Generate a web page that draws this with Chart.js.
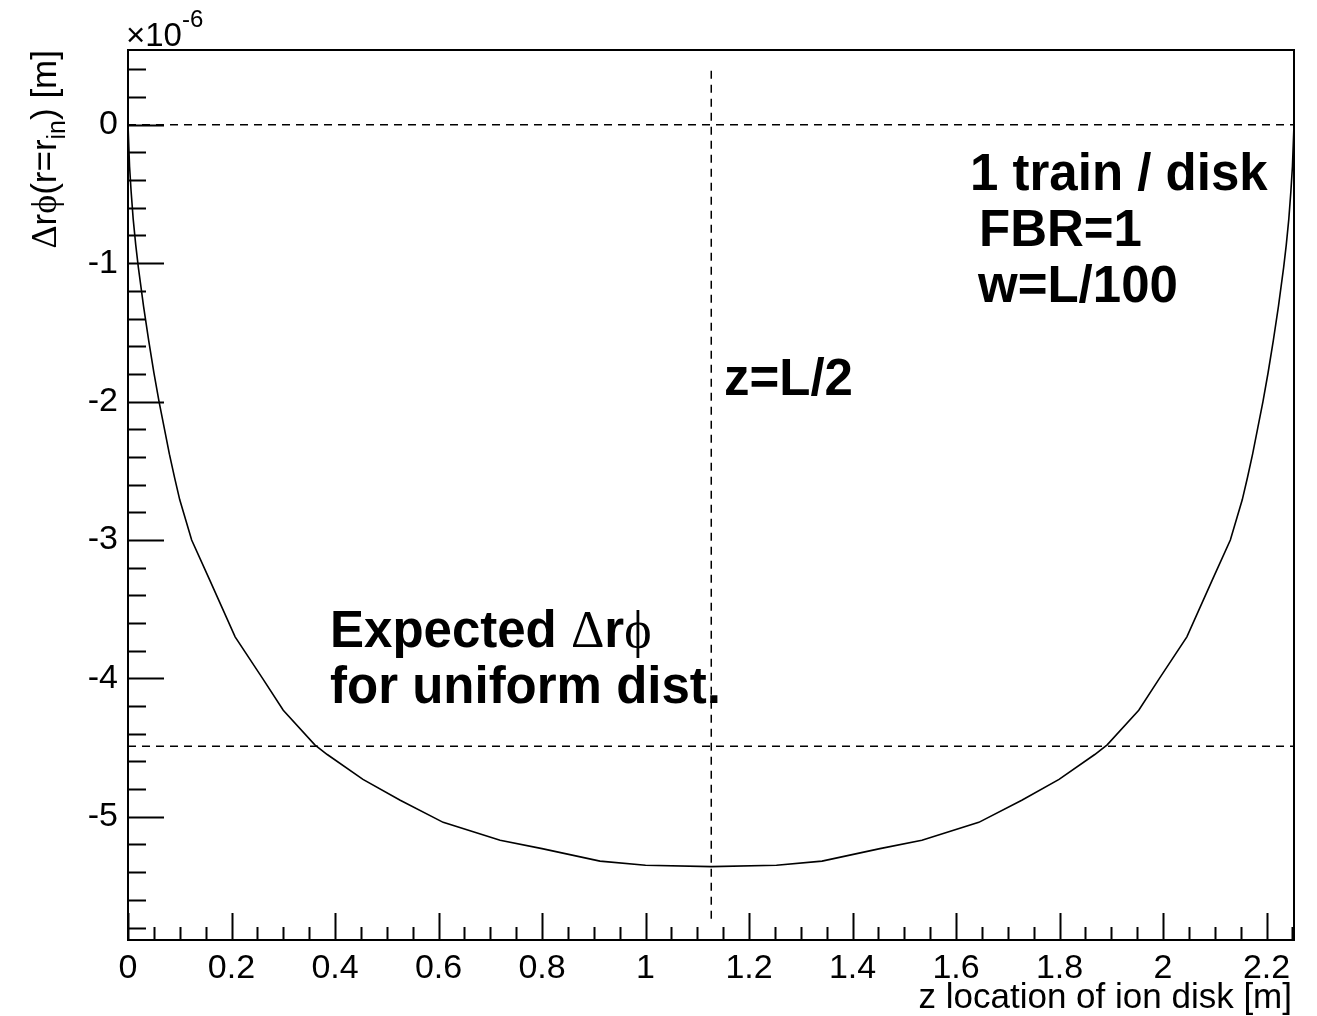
<!DOCTYPE html>
<html><head><meta charset="utf-8">
<script src="https://cdn.jsdelivr.net/npm/chart.js@4.4.1/dist/chart.umd.min.js"></script>
<style>html,body{margin:0;padding:0;background:#fff;}#wrap{width:1317px;height:1016px;position:relative;}</style>
</head><body><div id="wrap"><canvas id="c" width="1317" height="1016"></canvas></div>
<script>
// z location of ion disk [m]
const zValues = [0,0.003,0.006,0.01,0.015,0.02,0.03,0.04,0.05,0.06,0.07,0.08,0.09,0.1,0.123,0.158,0.207,0.26,0.30,0.361,0.385,0.454,0.526,0.609,0.719,0.8,0.912,1.0,1.127,
  1.253,1.341,1.453,1.534,1.644,1.727,1.799,1.868,1.892,1.953,1.993,2.046,2.095,2.130,2.153,2.163,2.173,2.183,2.193,2.203,2.213,2.223,2.233,2.238,2.243,2.247,2.250,2.253];
// delta r phi (r = r_in) in units of 1e-6 m
const dRPhiValues = [0,-0.3,-0.48,-0.68,-0.87,-1.03,-1.31,-1.56,-1.79,-2.0,-2.19,-2.38,-2.55,-2.71,-3.0,-3.29,-3.70,-4.0,-4.23,-4.48,-4.55,-4.73,-4.88,-5.04,-5.17,-5.23,-5.32,-5.35,-5.36,
  -5.35,-5.32,-5.23,-5.17,-5.04,-4.88,-4.73,-4.55,-4.48,-4.23,-4.0,-3.70,-3.29,-3.0,-2.71,-2.55,-2.38,-2.19,-2.0,-1.79,-1.56,-1.31,-1.03,-0.87,-0.68,-0.48,-0.3,0];
// reference lines
const refLineZ = [0, 2.253];
const zeroLineY = [0, 0];
const expectedLineY = [-4.49, -4.49];
const midLineZ = [1.127, 1.127];
const midLineY = [0.39, -5.77];
// tick labels
const xTickValues = [0,0.2,0.4,0.6,0.8,1,1.2,1.4,1.6,1.8,2,2.2];
const yTickValues = [-5,-4,-3,-2,-1,0];
const xRange = [0, 2.253];
const yRange = [-5.89, 0.54];

const SANS = '"Liberation Sans", Arial, Helvetica, sans-serif';
const SERIF = '"Liberation Serif", "DejaVu Serif", serif';
const PHI = '\u03d5';

function pts(xs, ys){ return xs.map((x,i)=>({x:x, y:ys[i]})); }

function drawRich(ctx, pieces, x, y){
  let cx = x;
  for (const p of pieces){
    ctx.font = p.font;
    ctx.fillText(p.t, cx, y + (p.dy||0));
    cx += ctx.measureText(p.t).width;
  }
  return cx - x;
}
function richWidth(ctx, pieces){
  let w = 0;
  for (const p of pieces){ ctx.font = p.font; w += ctx.measureText(p.t).width; }
  return w;
}

const rootPlugin = {
  id: 'rootStyle',
  afterDraw(chart){
    const ctx = chart.ctx;
    const xs = chart.scales.x, ys = chart.scales.y;
    const a = chart.chartArea;
    ctx.save();
    ctx.strokeStyle = '#000';
    ctx.fillStyle = '#000';
    // frame
    ctx.lineWidth = 2;
    ctx.strokeRect(a.left, a.top, a.right - a.left, a.bottom - a.top);
    // y ticks (inside, left)
    ctx.beginPath();
    for (let k = -29; k <= 2; k++){
      const v = k * 0.2;
      if (v < yRange[0] || v > yRange[1]) continue;
      const py = Math.round(ys.getPixelForValue(v)) + 0.5;
      const major = Math.abs(v - Math.round(v)) < 1e-6;
      ctx.moveTo(a.left, py);
      ctx.lineTo(a.left + (major ? 36 : 18), py);
    }
    ctx.stroke();
    // x ticks (inside, bottom)
    ctx.beginPath();
    for (let k = 0; k <= 45; k++){
      const v = k * 0.05;
      if (v > xRange[1] + 1e-9) continue;
      const px = Math.round(xs.getPixelForValue(v)) + 0.5;
      const major = (k % 4) === 0;
      ctx.moveTo(px, a.bottom);
      ctx.lineTo(px, a.bottom - (major ? 27 : 13));
    }
    ctx.stroke();

    // x10^-6
    ctx.textBaseline = 'alphabetic';
    ctx.textAlign = 'left';
    drawRich(ctx, [
      {t:'\u00d710', font:'33px ' + SANS},
      {t:'-6', font:'24px ' + SANS, dy:-19}
    ], a.left - 2, 46);

    // x axis title
    ctx.font = '35px ' + SANS;
    ctx.textAlign = 'right';
    ctx.fillText('z location of ion disk [m]', a.right - 2, 1008);

    // y axis title (rotated)
    ctx.save();
    ctx.translate(56, a.top);
    ctx.rotate(-Math.PI / 2);
    ctx.textAlign = 'left';
    const yt = [
      {t:'\u0394', font:'36px ' + SERIF},
      {t:'r', font:'35px ' + SANS},
      {t:PHI, font:'36px ' + SERIF},
      {t:'(r=r', font:'35px ' + SANS},
      {t:'in', font:'25px ' + SANS, dy:9},
      {t:') [m]', font:'35px ' + SANS}
    ];
    const w = richWidth(ctx, yt);
    drawRich(ctx, yt, -w, 0);
    ctx.restore();

    // annotations
    ctx.textAlign = 'left';
    const B = 'bold 51px ' + SANS;
    ctx.font = B;
    ctx.fillText('1 train / disk', 970, 190);
    ctx.fillText('FBR=1', 979, 246);
    ctx.fillText('w=L/100', 978, 302);
    ctx.fillText('z=L/2', 724, 395);
    drawRich(ctx, [
      {t:'Expected ', font:B},
      {t:'\u0394', font:'52px ' + SERIF},
      {t:'r', font:B},
      {t:PHI, font:'52px ' + SERIF}
    ], 330, 647);
    ctx.font = B;
    ctx.fillText('for uniform dist.', 330, 703);
    ctx.restore();
  }
};

new Chart(document.getElementById('c'), {
  type: 'scatter',
  data: {
    datasets: [
      {data: pts(zValues, dRPhiValues), showLine: true, borderColor: '#000', borderWidth: 1.6, pointRadius: 0, tension: 0},
      {data: pts(refLineZ, zeroLineY), showLine: true, borderColor: '#000', borderWidth: 1.5, borderDash: [8,6], pointRadius: 0},
      {data: pts(refLineZ, expectedLineY), showLine: true, borderColor: '#000', borderWidth: 1.5, borderDash: [8,6], pointRadius: 0},
      {data: pts(midLineZ, midLineY), showLine: true, borderColor: '#000', borderWidth: 1.5, borderDash: [8,6], pointRadius: 0}
    ]
  },
  options: {
    responsive: false,
    animation: false,
    devicePixelRatio: 1,
    layout: {padding: {left: 0, right: 23, top: 50, bottom: 0}},
    plugins: {legend: {display: false}, tooltip: {enabled: false}},
    scales: {
      x: {
        type: 'linear', min: xRange[0], max: xRange[1],
        grid: {display: false, drawTicks: false},
        border: {display: false},
        afterBuildTicks: s => { s.ticks = xTickValues.map(v => ({value: v})); },
        afterFit: s => { s.height = 76; },
        ticks: {color: '#000', font: {family: SANS, size: 34}, padding: 8, maxRotation: 0, autoSkip: false,
          callback: v => String(v)}
      },
      y: {
        type: 'linear', min: yRange[0], max: yRange[1],
        grid: {display: false, drawTicks: false},
        border: {display: false},
        afterBuildTicks: s => { s.ticks = yTickValues.map(v => ({value: v})); },
        afterFit: s => { s.width = 128; },
        ticks: {color: '#000', font: {family: SANS, size: 34}, padding: 10, autoSkip: false,
          callback: v => String(v)}
      }
    }
  },
  plugins: [rootPlugin]
});
</script>
</body></html>
